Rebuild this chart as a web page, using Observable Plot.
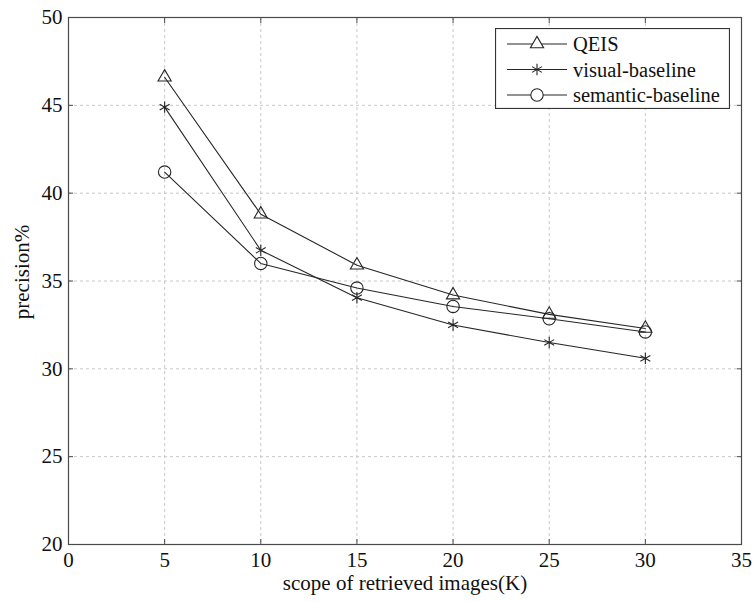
<!DOCTYPE html>
<html>
<head>
<meta charset="utf-8">
<script src="https://cdn.jsdelivr.net/npm/d3@7"></script>
<script src="https://cdn.jsdelivr.net/npm/@observablehq/plot@0.6"></script>
<style>
  body { margin: 0; background: #fff; }
  #wrap { position: relative; width: 755px; height: 602px; font-family: "Liberation Serif", "Times New Roman", serif; }
  #legend { position: absolute; left: 495px; top: 28px; }
</style>
</head>
<body>
<div id="wrap"></div>
<script>
const K = [5, 10, 15, 20, 25, 30];
const qeis = [46.6, 38.8, 35.9, 34.2, 33.1, 32.3];
const visual = [44.9, 36.75, 34.05, 32.5, 31.5, 30.6];
const semantic = [41.2, 36.0, 34.6, 33.55, 32.85, 32.1];
const seriesNames = ["QEIS", "visual-baseline", "semantic-baseline"];
const seriesSymbols = ["triangle", "asterisk", "circle"];
const xTicks = [0, 5, 10, 15, 20, 25, 30, 35];
const yTicks = [20, 25, 30, 35, 40, 45, 50];

const values = [qeis, visual, semantic];
const data = [];
values.forEach((arr, si) => arr.forEach((v, i) => data.push({k: K[i], p: v, s: seriesNames[si]})));

const ink = "#262626";
const serif = "'Liberation Serif', 'Times New Roman', serif";
const symR = {triangle: 4.9, asterisk: 5.4, circle: 6.2};

const marks = [
  Plot.gridX(xTicks, {stroke: "#c8c8c8", strokeOpacity: 1, strokeDasharray: "3,3"}),
  Plot.gridY(yTicks, {stroke: "#c8c8c8", strokeOpacity: 1, strokeDasharray: "3,3"}),
  Plot.frame({stroke: "#4a4a4a", strokeWidth: 1.2}),
  Plot.axisX({ticks: xTicks, tickSize: -5, tickPadding: 13, fontSize: 21, fontFamily: serif, fill: "#111", label: null, stroke: "#4a4a4a"}),
  Plot.axisX({anchor: "top", ticks: xTicks, tickSize: -5, tickFormat: () => "", label: null, stroke: "#4a4a4a"}),
  Plot.axisY({ticks: yTicks, tickSize: -5, tickPadding: 11, fontSize: 21, fontFamily: serif, fill: "#111", label: null, stroke: "#4a4a4a"}),
  Plot.axisY({anchor: "right", ticks: yTicks, tickSize: -5, tickFormat: () => "", label: null, stroke: "#4a4a4a"}),
  Plot.text(["precision%"], {frameAnchor: "left", dx: -46, dy: -9, rotate: -90, textAnchor: "middle", lineAnchor: "middle", fontSize: 21, fontFamily: serif, fill: "#111"}),
  Plot.text(["scope of retrieved images(K)"], {frameAnchor: "bottom", dy: 39, textAnchor: "middle", lineAnchor: "middle", fontSize: 21, fontFamily: serif, fill: "#111"}),
  Plot.line(data, {x: "k", y: "p", z: "s", stroke: ink, strokeWidth: 1.1})
];
seriesNames.forEach((name, i) => {
  marks.push(Plot.dot(data.filter(d => d.s === name), {
    x: "k", y: "p", symbol: seriesSymbols[i], r: symR[seriesSymbols[i]],
    stroke: ink, fill: "none", strokeWidth: 1.1
  }));
});

const chart = Plot.plot({
  width: 755,
  height: 602,
  marginLeft: 68,
  marginRight: 14,
  marginTop: 17,
  marginBottom: 58,
  style: {fontFamily: serif, fontSize: "21px", color: "#111", background: "#fff"},
  x: {domain: [0, 35]},
  y: {domain: [20, 50]},
  marks
});
document.getElementById("wrap").appendChild(chart);

// Legend
const lw = 235, lh = 81;
const leg = d3.select("#wrap").append("svg").attr("id", "legend")
  .attr("width", lw).attr("height", lh)
  .style("font-family", serif);
leg.append("rect").attr("x", 0.5).attr("y", 0.5).attr("width", lw - 1).attr("height", lh - 1)
  .attr("fill", "#fff").attr("stroke", "#333").attr("stroke-width", 1.2);
const symMap = {triangle: d3.symbolTriangle, asterisk: d3.symbolAsterisk, circle: d3.symbolCircle};
seriesNames.forEach((name, i) => {
  const cy = 16 + i * 25.5;
  const g = leg.append("g");
  g.append("line").attr("x1", 12).attr("x2", 72).attr("y1", cy).attr("y2", cy).attr("stroke", ink).attr("stroke-width", 1.1);
  const r = symR[seriesSymbols[i]];
  g.append("path").attr("d", d3.symbol(symMap[seriesSymbols[i]], Math.PI * r * r)())
    .attr("transform", `translate(42,${cy})`).attr("fill", "#fff").attr("stroke", ink).attr("stroke-width", 1.1);
  g.append("text").attr("x", 78).attr("y", cy).attr("dy", "0.35em").attr("font-size", 20.5).attr("fill", "#111").text(name);
});
</script>
</body>
</html>
